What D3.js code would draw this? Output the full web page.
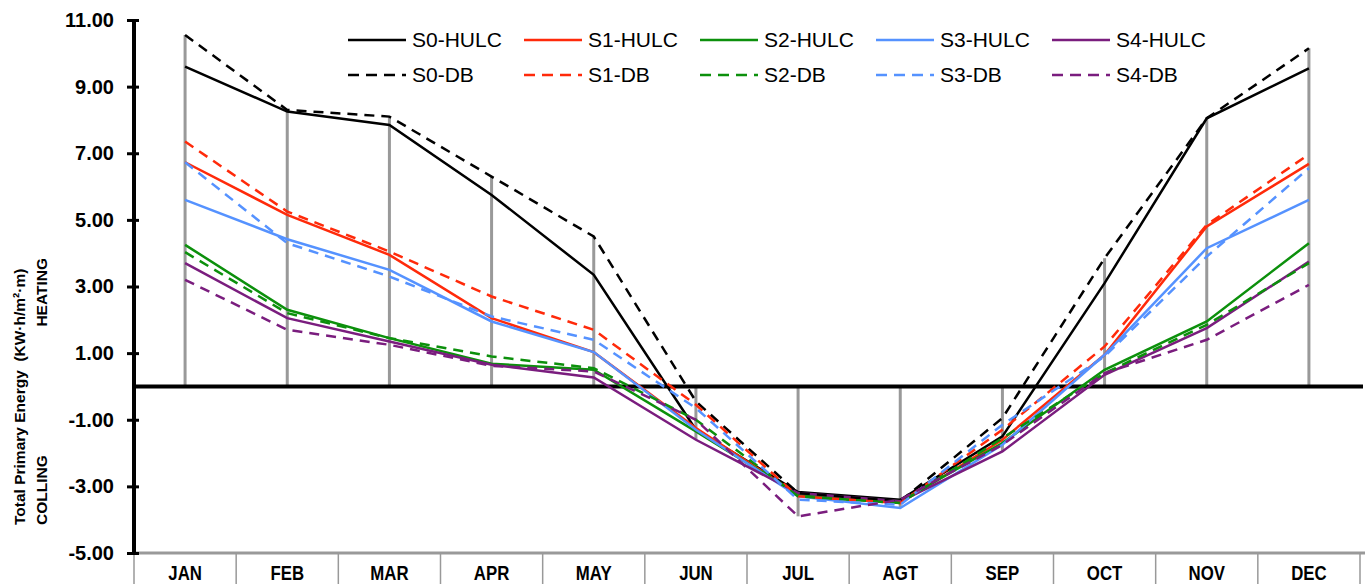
<!DOCTYPE html>
<html>
<head>
  <meta charset="utf-8">
  <title></title>
  <script src="https://d3js.org/d3.v7.min.js"></script>
  <style>
    body { margin: 0; background: #fff; }
    text { font-family: "Liberation Sans", Arial, sans-serif; }
  </style>
</head>
<body>
<script type="text/javascript">
// categories and values
var months = ["JAN","FEB","MAR","APR","MAY","JUN","JUL","AGT","SEP","OCT","NOV","DEC"];
var yTicks = [-5, -3, -1, 1, 3, 5, 7, 9, 11];

var s0Hulc = [9.6, 8.25, 7.85, 5.75, 3.35, -1.3, -3.17, -3.4, -1.5, 3.1, 8.05, 9.55];
var s1Hulc = [6.73, 5.15, 3.95, 2.05, 1.03, -1.25, -3.25, -3.5, -1.6, 0.95, 4.8, 6.68];
var s2Hulc = [4.25, 2.3, 1.45, 0.68, 0.5, -1.35, -3.25, -3.45, -1.7, 0.5, 1.95, 4.3];
var s3Hulc = [5.6, 4.42, 3.5, 1.95, 1.03, -1.3, -3.3, -3.65, -1.75, 0.95, 4.15, 5.6];
var s4Hulc = [3.7, 2.05, 1.35, 0.65, 0.27, -1.6, -3.2, -3.45, -1.95, 0.35, 1.75, 3.75];
var s0Db = [10.55, 8.3, 8.1, 6.3, 4.5, -0.45, -3.2, -3.45, -0.95, 3.85, 8.05, 10.15];
var s1Db = [7.35, 5.25, 4.05, 2.7, 1.7, -0.55, -3.3, -3.5, -1.3, 1.2, 4.85, 6.97];
var s2Db = [4.03, 2.2, 1.45, 0.9, 0.55, -1.0, -3.3, -3.5, -1.55, 0.4, 1.85, 3.7];
var s3Db = [6.73, 4.3, 3.3, 2.1, 1.4, -0.65, -3.4, -3.55, -1.15, 0.9, 3.9, 6.55];
var s4Db = [3.2, 1.7, 1.25, 0.62, 0.45, -1.0, -3.9, -3.4, -1.75, 0.4, 1.4, 3.05];

var seriesNames = ["S0-HULC","S1-HULC","S2-HULC","S3-HULC","S4-HULC","S0-DB","S1-DB","S2-DB","S3-DB","S4-DB"];
var seriesValues = [s0Hulc, s1Hulc, s2Hulc, s3Hulc, s4Hulc, s0Db, s1Db, s2Db, s3Db, s4Db];
var colors = ["#000000", "#ff2a0a", "#0c900c", "#5592ff", "#7a1d7e"];

var width = 1365, height = 588;
var plotLeft = 134, plotRight = 1360, plotTop = 20, plotBottom = 553;

var svg = d3.select("body").append("svg")
    .attr("width", width)
    .attr("height", height);

var x = d3.scalePoint().domain(months).range([plotLeft, plotRight]).padding(0.5);
var y = d3.scaleLinear().domain([-5, 11]).range([plotBottom, plotTop]);
var step = x.step();

var series = seriesNames.map(function(n, i){
  return {name: n, values: seriesValues[i], color: colors[i % 5], dashed: i >= 5};
});

// gray drop lines from the zero line to the farthest point
var drops = months.map(function(m, j){
  var vals = seriesValues.map(function(s){ return s[j]; });
  return {m: m, lo: Math.min(0, d3.min(vals)), hi: Math.max(0, d3.max(vals))};
});
svg.selectAll(".drop").data(drops).enter().append("line")
   .attr("class", "drop")
   .attr("x1", function(d){ return x(d.m); })
   .attr("x2", function(d){ return x(d.m); })
   .attr("y1", function(d){ return y(d.lo); })
   .attr("y2", function(d){ return y(d.hi); })
   .style("stroke", "#999")
   .style("stroke-width", 3);

// bottom category axis (gray, at -5)
svg.append("line")
   .attr("x1", plotLeft - 1).attr("x2", width)
   .attr("y1", y(-5)).attr("y2", y(-5))
   .style("stroke", "#999").style("stroke-width", 3);
var bounds = d3.range(months.length + 1).map(function(i){ return plotLeft + i * step; });
svg.selectAll(".div").data(bounds).enter().append("line")
   .attr("x1", function(d){ return d; })
   .attr("x2", function(d){ return d; })
   .attr("y1", y(-5)).attr("y2", 584)
   .style("stroke", "#999").style("stroke-width", 1.5);
// condensed month labels
svg.selectAll(".mlab").data(months).enter().append("text")
   .attr("transform", function(d){ return "translate(" + x(d) + ",580) scale(0.8,1)"; })
   .attr("text-anchor", "middle")
   .style("font-weight", "bold")
   .style("font-size", "21px")
   .text(function(d){ return d; });

// zero line
svg.append("line")
   .attr("x1", plotLeft - 1).attr("x2", 1363)
   .attr("y1", y(0)).attr("y2", y(0))
   .style("stroke", "#000").style("stroke-width", 4);

// series lines
var line = d3.line()
    .x(function(d, j){ return x(months[j]); })
    .y(function(d){ return y(d); });
svg.selectAll(".series").data(series).enter().append("path")
   .attr("class", "series")
   .attr("d", function(d){ return line(d.values); })
   .style("fill", "none")
   .style("stroke", function(d){ return d.color; })
   .style("stroke-width", 2.5)
   .style("stroke-dasharray", function(d){ return d.dashed ? "10,7" : null; });

// y axis
var fmt = d3.format(".2f");
var yAxis = d3.axisLeft(y).tickValues(yTicks)
    .tickFormat(function(d){ return fmt(d).replace("\u2212", "-"); })
    .tickSize(7).tickPadding(13);
var gy = svg.append("g").attr("transform", "translate(" + plotLeft + ",0)").call(yAxis);
gy.select(".domain").remove();
gy.selectAll(".tick line").attr("x1", 5).attr("x2", -7).style("stroke", "#000").style("stroke-width", 3);
gy.selectAll(".tick text")
  .style("font-family", "'Liberation Sans', Arial, sans-serif")
  .style("font-weight", "bold")
  .style("font-size", "20px")
  .style("fill", "#000");
svg.append("line")
   .attr("x1", plotLeft).attr("x2", plotLeft)
   .attr("y1", y(11) - 1).attr("y2", y(-5) + 1)
   .style("stroke", "#000").style("stroke-width", 4);

// y title
var t = svg.append("g").style("font-weight", "bold").style("font-size", "15.5px");
t.append("text")
 .attr("transform", "translate(25,525) rotate(-90)")
 .attr("text-anchor", "start")
 .text("Total Primary Energy\u00a0\u00a0(KW\u00b7h/m\u00b2\u00b7m)");
t.append("text")
 .attr("transform", "translate(47,525) rotate(-90)")
 .attr("text-anchor", "start")
 .text("COLLING");
t.append("text")
 .attr("transform", "translate(47,258) rotate(-90)")
 .attr("text-anchor", "end")
 .text("HEATING");

// legend
var leg = svg.selectAll(".leg").data(series).enter().append("g")
   .attr("class", "leg")
   .attr("transform", function(d, i){
     return "translate(" + (348 + (i % 5) * 176) + "," + (i < 5 ? 40 : 75) + ")";
   });
leg.append("line")
   .attr("x1", 0).attr("x2", 58)
   .style("stroke", function(d){ return d.color; })
   .style("stroke-width", 2.5)
   .style("stroke-dasharray", function(d){ return d.dashed ? "11,7" : null; });
leg.append("text")
   .attr("x", 64).attr("y", 7)
   .style("font-size", "21px")
   .text(function(d){ return d.name; });
</script>
</body>
</html>
